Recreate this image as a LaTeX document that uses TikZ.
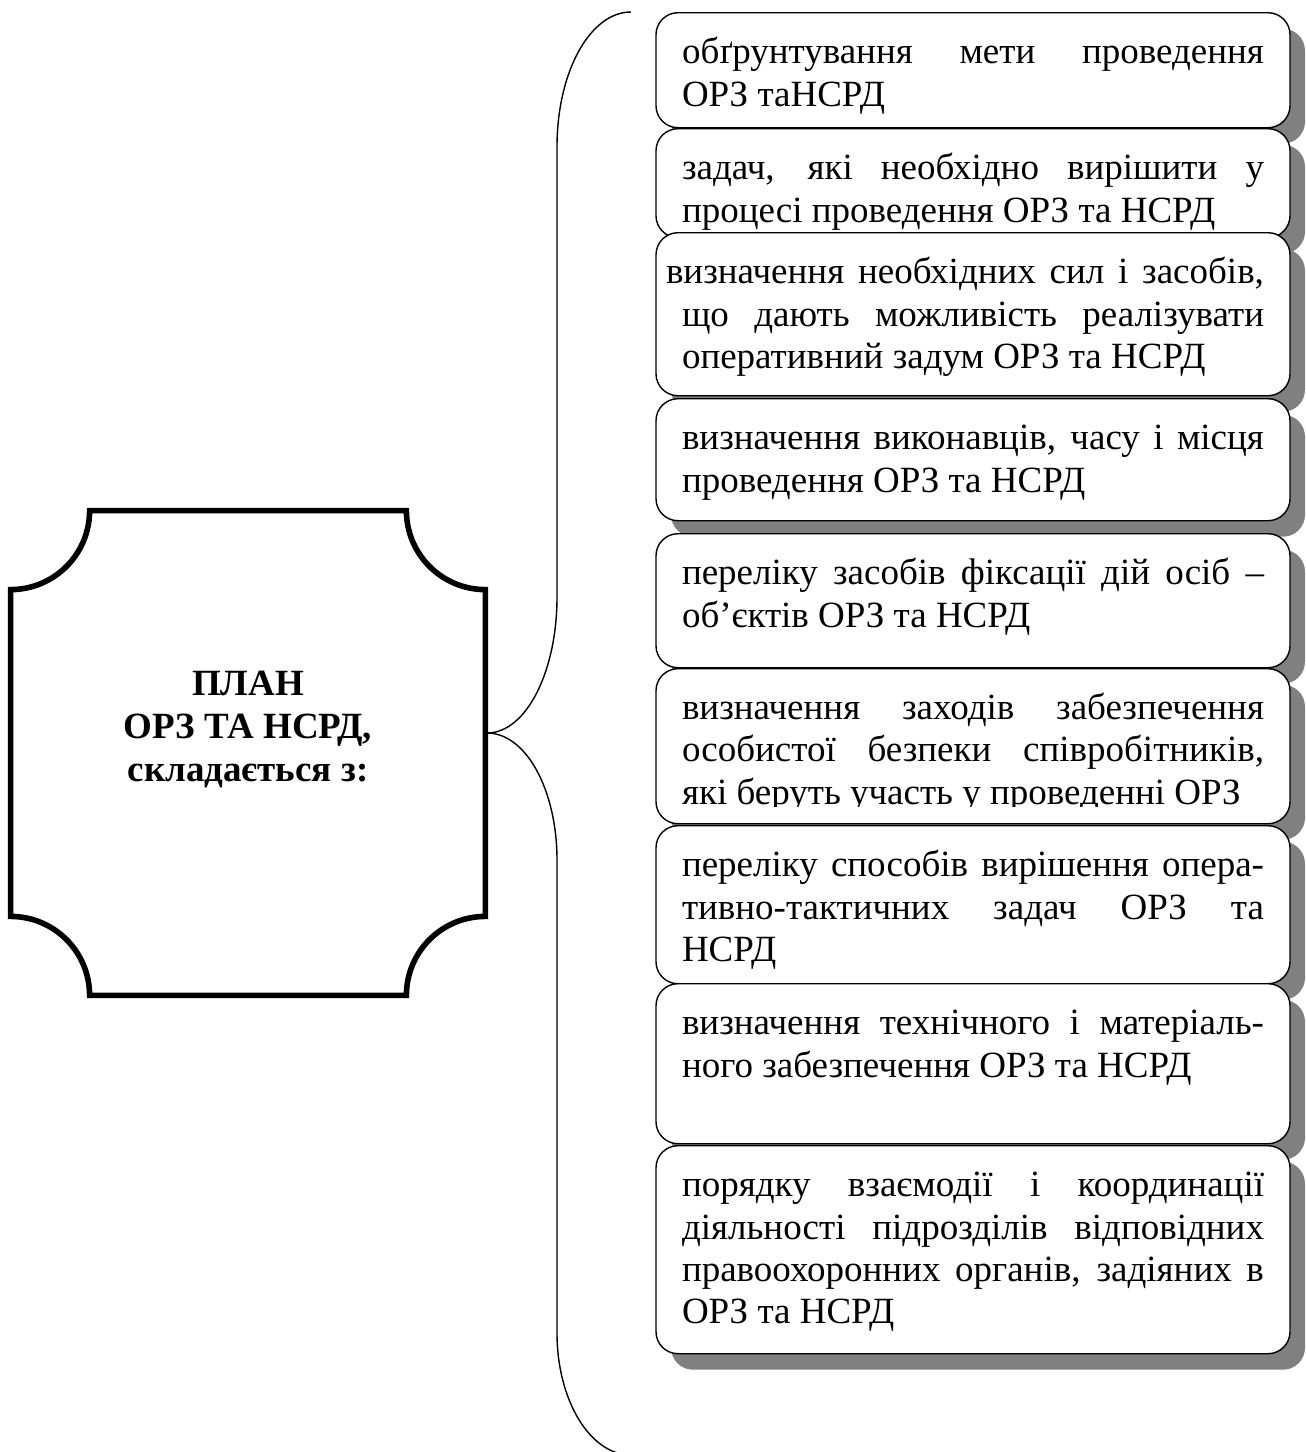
\documentclass[tikz,border=0pt]{standalone}
\usepackage{fontspec}
\setmainfont{Liberation Serif}
\usetikzlibrary{shadows, calc}
\definecolor{shadowgray}{RGB}{128, 128, 128}
\newcommand{\itemfont}{\fontsize{18.5pt}{21.2pt}\selectfont}
\newcommand{\itemtext}[2]{\parbox[c][#1][t]{291pt}{\tolerance=10000\hbadness=10000\vspace*{10.7pt}\strut#2}}

\begin{document}
\begin{tikzpicture}[
    x=0.5pt, y=-0.5pt,
    item/.style={draw, line width=0.7pt, rounded corners=11pt, fill=white, anchor=north,
                 inner xsep=13pt, inner ysep=0pt, font=\itemfont,
                 drop shadow={shadow xshift=7.5pt, shadow yshift=-8pt, fill=shadowgray, opacity=1}},
    itemtxt/.style={anchor=north, inner xsep=13pt, inner ysep=0pt, font=\itemfont},
    plaque/.style={minimum width=237pt, minimum height=242pt, inner sep=0pt},
    plaqueline/.style={line width=2.8pt, line join=miter},
    heading/.style={align=center, inner sep=0pt, font=\bfseries\fontsize{18.5pt}{21.5pt}\selectfont},
    braceline/.style={line width=0.7pt}
]
    \useasboundingbox (0,0) rectangle (1306,1452);

    \node[plaque] (plan) at (248,753) {};
    \draw[plaqueline] ($(plan.north west)+(79,0)$) -- ($(plan.north east)+(-79,0)$)
        arc[start angle=180, end angle=90, radius=79]
        -- ($(plan.south east)+(0,-79)$)
        arc[start angle=270, end angle=180, radius=79]
        -- ($(plan.south west)+(79,0)$)
        arc[start angle=0, end angle=-90, radius=79]
        -- ($(plan.north west)+(0,79)$)
        arc[start angle=90, end angle=0, radius=79]
        -- cycle;
    \node[heading] (plantitle) at (248,729) {ПЛАН\\ОРЗ ТА НСРД,\\складається з:};

    \coordinate (tip) at (487,733);
    \coordinate (bracetop) at (631,12);
    \coordinate (bracebot) at (631,1455);
    \draw[braceline] (bracetop) .. controls (590,12) and (557,72) .. (557,147)
        -- (557,597) .. controls (557,672) and (526,733) .. (tip)
        .. controls (526,733) and (557,790) .. (557,860)
        -- (557,1333) .. controls (557,1400) and (590,1455) .. (bracebot);

    \node[item] (b1) at (973,12) {\itemtext{57.5pt}{обґрунтування мети проведення\linebreak ОРЗ таНСРД}};
    \node[item] (b2) at (973,128) {\itemtext{54.5pt}{задач, які необхідно вирішити у\linebreak процесі проведення ОРЗ та НСРД}};
    \node[item] (b3) at (973,232) {\itemtext{81.5pt}{\hspace*{-8pt}визначення необхідних сил і засобів,\linebreak що дають можливість реалізувати\linebreak оперативний задум ОРЗ та НСРД}};
    \node[item] (b4) at (973,398) {\itemtext{61pt}{визначення виконавців, часу і місця\linebreak проведення ОРЗ та НСРД}};
    \node[item] (b5) at (973,533) {\itemtext{67pt}{переліку засобів фіксації дій осіб –\linebreak об’єктів ОРЗ та НСРД}};
    \node[item] (b6) at (973,668) {\itemtext{77.5pt}{}};
    \begin{scope}
        \clip (b6.north west) rectangle (1289,806);
        \node[itemtxt] (b6txt) at (b6.north) {\itemtext{77.5pt}{визначення заходів забезпечення\linebreak особистої безпеки співробітників,\linebreak які беруть участь у проведенні ОРЗ}};
    \end{scope}
    \node[item] (b7) at (973,825) {\itemtext{79pt}{переліку способів вирішення опера-\linebreak тивно-тактичних задач ОРЗ та\linebreak НСРД}};
    \node[item] (b8) at (973,983) {\itemtext{80pt}{визначення технічного і матеріаль-\linebreak ного забезпечення ОРЗ та НСРД}};
    \node[item] (b9) at (973,1145) {\itemtext{104pt}{порядку взаємодії і координації\linebreak діяльності підрозділів відповідних\linebreak правоохоронних органів, задіяних в\linebreak ОРЗ та НСРД}};
\end{tikzpicture}
\end{document}
